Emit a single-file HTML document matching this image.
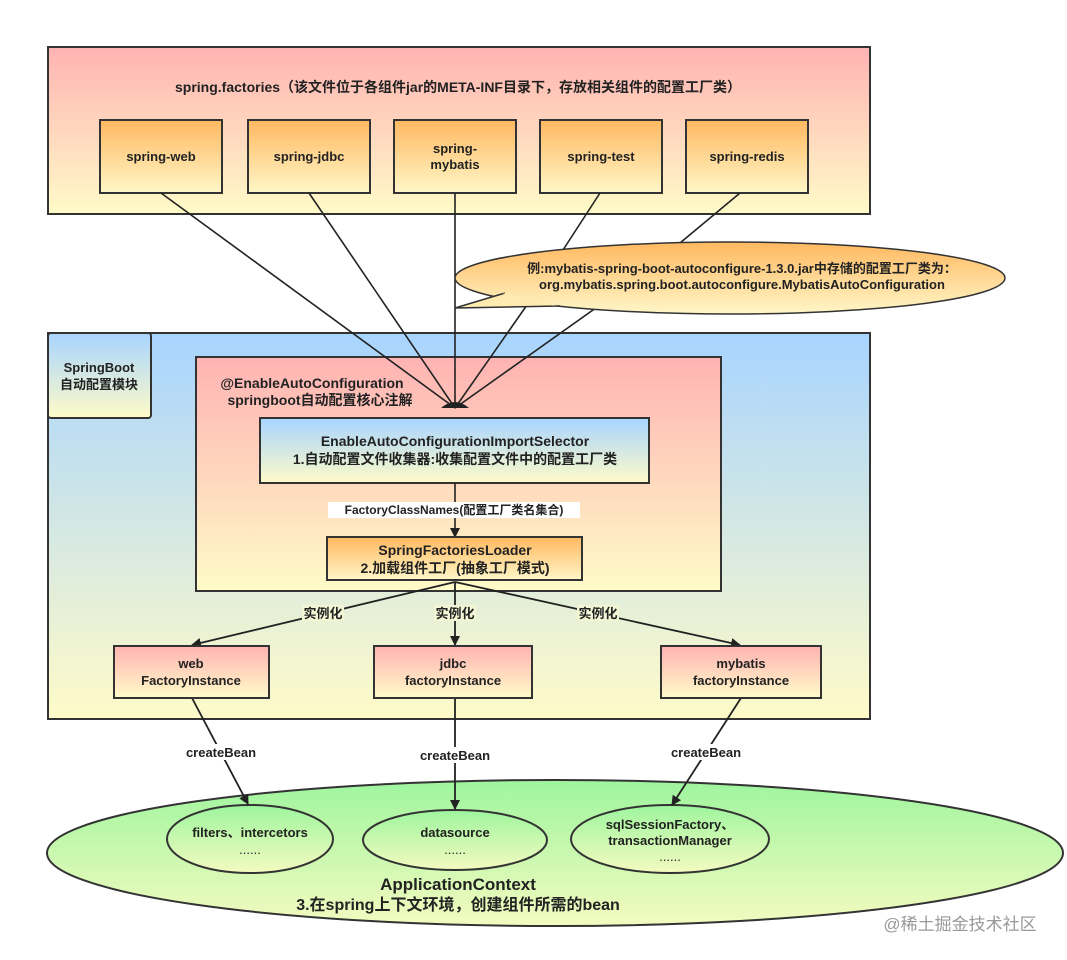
<!DOCTYPE html>
<html><head><meta charset="utf-8"><style>
html,body{margin:0;padding:0;background:#fff;}
svg{display:block;}
text{font-family:"Liberation Sans","Noto Sans CJK SC",sans-serif;font-weight:bold;font-size:13px;fill:#222;text-anchor:middle;}
</style></head><body>
<svg width="1067" height="960" viewBox="0 0 1067 960" xmlns="http://www.w3.org/2000/svg">
<defs>
<linearGradient id="py" x1="0" y1="0" x2="0" y2="1"><stop offset="0" stop-color="#ffb3b3"/><stop offset="1" stop-color="#fffbc8"/></linearGradient>
<linearGradient id="oy" x1="0" y1="0" x2="0" y2="1"><stop offset="0" stop-color="#ffb860"/><stop offset="1" stop-color="#fff7c8"/></linearGradient>
<linearGradient id="by" x1="0" y1="0" x2="0" y2="1"><stop offset="0" stop-color="#a8d4ff"/><stop offset="1" stop-color="#fffbc8"/></linearGradient>
<linearGradient id="gy" x1="0" y1="0" x2="0" y2="1"><stop offset="0" stop-color="#9ef59e"/><stop offset="1" stop-color="#f4fbc0"/></linearGradient>
<marker id="ar" markerWidth="10" markerHeight="10" refX="9" refY="5" orient="auto" markerUnits="userSpaceOnUse"><path d="M0,0 L10,5 L0,10 z" fill="#222"/></marker>
</defs>
<!-- top box -->
<rect x="48" y="47" width="822" height="167" fill="url(#py)" stroke="#333" stroke-width="2"/>
<text x="458" y="92" style="font-size:14px">spring.factories（该文件位于各组件jar的META-INF目录下，存放相关组件的配置工厂类）</text>
<g stroke="#333" stroke-width="2" fill="url(#oy)">
<rect x="100" y="120" width="122" height="73"/><rect x="248" y="120" width="122" height="73"/><rect x="394" y="120" width="122" height="73"/><rect x="540" y="120" width="122" height="73"/><rect x="686" y="120" width="122" height="73"/>
</g>
<text x="161" y="161">spring-web</text><text x="309" y="161">spring-jdbc</text>
<text x="455" y="153">spring-</text><text x="455" y="169">mybatis</text>
<text x="601" y="161">spring-test</text><text x="747" y="161">spring-redis</text>
<!-- springboot box -->
<rect x="48" y="333" width="822" height="386" fill="url(#by)" stroke="#333" stroke-width="2"/>
<rect x="48" y="333" width="103" height="85" rx="3" fill="url(#by)" stroke="#333" stroke-width="2"/>
<text x="99" y="372">SpringBoot</text><text x="99" y="389">自动配置模块</text>
<rect x="196" y="357" width="525" height="234" fill="url(#py)" stroke="#333" stroke-width="2"/>
<text x="312" y="388" style="font-size:14px">@EnableAutoConfiguration</text>
<text x="320" y="405" style="font-size:14px">springboot自动配置核心注解</text>
<!-- lines to fan -->
<g stroke="#222" stroke-width="1.6" fill="none">
<line x1="161" y1="193" x2="455" y2="408"/><line x1="309" y1="193" x2="455" y2="408"/><line x1="455" y1="193" x2="455" y2="408"/>
<line x1="600" y1="193" x2="563" y2="250"/><line x1="740" y1="193" x2="680" y2="243"/>
<line x1="527" y1="305" x2="455" y2="408"/><line x1="600" y1="305" x2="455" y2="408"/>
</g>
<ellipse cx="730" cy="278" rx="275" ry="36" fill="url(#oy)" stroke="#333" stroke-width="1.5"/>
<path d="M505,293 L455,308 L560,306" fill="#ffeab0" stroke="#333" stroke-width="1.5"/>
<path d="M500,292 L545,304 L560,307 L520,300 Z" fill="#ffeab0"/>
<text x="742" y="273">例:mybatis-spring-boot-autoconfigure-1.3.0.jar中存储的配置工厂类为：</text>
<text x="742" y="289">org.mybatis.spring.boot.autoconfigure.MybatisAutoConfiguration</text>
<path d="M441,408 Q455,396 469,408 Z" fill="#222"/>
<rect x="260" y="418" width="389" height="65" fill="url(#by)" stroke="#333" stroke-width="2"/>
<text x="455" y="446" style="font-size:14px">EnableAutoConfigurationImportSelector</text>
<text x="455" y="464" style="font-size:14px">1.自动配置文件收集器:收集配置文件中的配置工厂类</text>
<line x1="455" y1="483" x2="455" y2="537" stroke="#222" stroke-width="1.6" marker-end="url(#ar)"/>
<rect x="328" y="502" width="252" height="16" fill="#fff"/>
<text x="454" y="514" style="font-size:12px">FactoryClassNames(配置工厂类名集合)</text>
<rect x="327" y="537" width="255" height="43" fill="url(#oy)" stroke="#333" stroke-width="2"/>
<text x="455" y="555" style="font-size:14px">SpringFactoriesLoader</text>
<text x="455" y="573" style="font-size:14px">2.加载组件工厂(抽象工厂模式)</text>
<!-- application context (drawn before arrows) -->
<ellipse cx="555" cy="853" rx="508" ry="73" fill="url(#gy)" stroke="#333" stroke-width="2"/>
<g stroke="#333" stroke-width="2" fill="url(#gy)">
<ellipse cx="250" cy="839" rx="83" ry="34"/><ellipse cx="455" cy="840" rx="92" ry="30"/><ellipse cx="670" cy="839" rx="99" ry="34"/>
</g>
<!-- arrows -->
<g stroke="#222" stroke-width="1.8" fill="none" marker-end="url(#ar)">
<line x1="455" y1="582" x2="192" y2="645"/><line x1="455" y1="582" x2="455" y2="645"/><line x1="455" y1="582" x2="740" y2="645"/>
<line x1="192" y1="698" x2="248" y2="804"/><line x1="455" y1="698" x2="455" y2="809"/><line x1="741" y1="698" x2="672" y2="805"/>
</g>
<g style="font-size:12px">
<rect x="302" y="605" width="42" height="16" fill="#f3f6d4"/><text x="323" y="618">实例化</text>
<rect x="434" y="605" width="42" height="16" fill="#f3f6d4"/><text x="455" y="618">实例化</text>
<rect x="577" y="605" width="42" height="16" fill="#f3f6d4"/><text x="598" y="618">实例化</text>
</g>
<g stroke="#333" stroke-width="2" fill="url(#py)">
<rect x="114" y="646" width="155" height="52"/><rect x="374" y="646" width="158" height="52"/><rect x="661" y="646" width="160" height="52"/>
</g>
<text x="191" y="668">web</text><text x="191" y="685">FactoryInstance</text>
<text x="453" y="668">jdbc</text><text x="453" y="685">factoryInstance</text>
<text x="741" y="668">mybatis</text><text x="741" y="685">factoryInstance</text>
<rect x="178" y="744" width="88" height="16" fill="#fff"/><text x="221" y="757">createBean</text>
<rect x="411" y="747" width="88" height="16" fill="#fff"/><text x="455" y="760">createBean</text>
<rect x="662" y="744" width="88" height="16" fill="#fff"/><text x="706" y="757">createBean</text>
<text x="250" y="837">filters、intercetors</text><text x="250" y="854" style="font-weight:normal">......</text>
<text x="455" y="837">datasource</text><text x="455" y="854" style="font-weight:normal">......</text>
<text x="670" y="829">sqlSessionFactory、</text><text x="670" y="845">transactionManager</text><text x="670" y="861" style="font-weight:normal">......</text>
<text x="458" y="890" style="font-size:17px">ApplicationContext</text>
<text x="458" y="910" style="font-size:16px">3.在spring上下文环境，创建组件所需的bean</text>
<text x="960" y="930" style="font-size:17px;font-weight:normal;fill:#999">@稀土掘金技术社区</text>
</svg>
</body></html>
